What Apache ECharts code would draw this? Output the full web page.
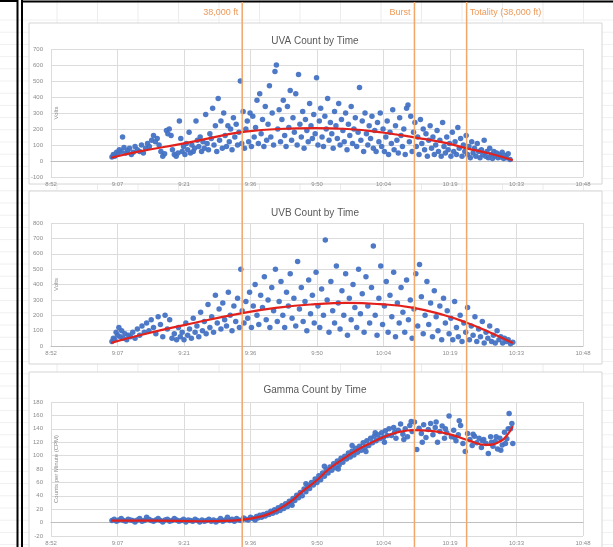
<!DOCTYPE html>
<html><head><meta charset="utf-8">
<script src="https://cdn.jsdelivr.net/npm/echarts@6/dist/echarts.min.js"></script>
<style>html,body{margin:0;padding:0;background:#fff}#c{width:613px;height:547px}</style>
</head><body><div id="c"></div><script>
// times are minutes after 9:00
const xTickLabels = ['8:52','9:07','9:21','9:36','9:50','10:04','10:19','10:33','10:48'];
const eventTimes = [34.2, 71.5, 82.8];
const eventLabels = ['38,000 ft', 'Burst', 'Totality (38,000 ft)'];
const chartTitles = ['UVA Count by Time', 'UVB Count by Time', 'Gamma Count by Time'];
const yAxisNames = ['Volts', 'Volts', 'Counts per Minute (CPM)'];

const uvaPoints = [
[6.0,25],[6.3,40],[6.6,30],[7.0,55],[7.3,45],[7.6,70],[8.0,60],[8.3,150],[8.6,85],[9.0,50],[9.4,65],[9.8,80],[10.2,40],[10.6,55],[11.0,90],[11.5,70],[12.0,60],[12.4,100],[12.8,50],[13.3,80],[13.7,110],[14.1,90],[14.6,130],[15.0,160],[15.4,120],[15.8,140],[16.2,100],[16.6,60],[17.0,30],[17.4,45],[17.8,190],[18.1,170],[18.4,200],[18.8,160],[19.1,70],[19.5,40],[19.9,30],[20.3,50],
[20.6,250],[20.9,140],[21.2,60],[21.5,90],[21.8,40],[22.1,110],[22.4,70],[22.7,180],[23.0,50],[23.3,100],[23.6,60],[23.9,80],[24.2,250],[24.5,130],[24.8,90],[25.1,150],[25.4,60],[25.7,120],[26.0,80],[26.3,290],[26.6,110],[26.9,70],[27.2,170],[27.5,140],[27.8,330],[28.1,100],[28.4,220],[28.7,60],[29.0,390],[29.3,130],[29.6,250],[29.9,80],[30.2,300],[30.5,160],[30.8,90],[31.1,220],[31.4,120],[31.7,200],[32.0,70],[32.3,270],[32.6,150],[32.9,230],[33.2,100],[33.5,180],[33.8,500],[34.1,110],[34.4,310],[34.7,80],[35.0,200],
[35.3,250],[35.6,120],[35.9,300],[36.2,90],[36.5,280],[36.8,150],[37.1,210],[37.4,380],[37.7,110],[38.0,420],[38.3,170],[38.6,260],[38.9,90],[39.2,340],[39.5,130],[39.8,230],[40.1,470],[40.4,150],[40.7,300],[41.0,100],[41.3,560],[41.6,600],[41.9,200],[42.2,320],[42.5,120],[42.8,260],[43.1,380],[43.4,160],[43.7,90],[44.0,340],[44.3,210],[44.6,440],[44.9,130],[45.2,270],[45.5,180],[45.8,420],[46.1,100],[46.4,540],[46.7,230],[47.0,150],[47.3,310],[47.6,80],[47.9,260],[48.2,190],[48.5,120],[48.8,360],[49.1,220],[49.4,140],[49.7,290],
[50.0,170],[50.3,520],[50.6,100],[50.9,250],[51.2,330],[51.5,150],[51.8,90],[52.1,280],[52.4,200],[52.7,390],[53.0,130],[53.3,240],[53.6,170],[53.9,80],[54.2,310],[54.5,220],[54.8,140],[55.1,360],[55.4,100],[55.7,260],[56.0,190],[56.3,120],[56.6,300],[56.9,70],[57.2,230],[57.5,160],[57.8,340],[58.1,110],[58.4,200],[58.7,270],[59.0,90],[59.3,180],[59.6,460],[59.9,130],[60.2,250],[60.5,60],[60.8,300],[61.1,170],[61.4,100],[61.7,220],[62.0,140],[62.3,280],[62.6,80],[62.9,190],[63.2,60],[63.5,240],[63.8,120],
[64.1,300],[64.4,90],[64.7,200],[65.0,60],[65.3,150],[65.6,250],[65.9,40],[66.2,180],[66.5,110],[66.8,320],[67.1,70],[67.4,220],[67.7,130],[68.0,50],[68.3,270],[68.6,160],[68.9,90],[69.2,200],[69.5,40],[69.8,330],[70.1,350],[70.4,120],[70.7,280],[71.0,60],[71.3,180],[71.6,240],[71.9,90],[72.2,150],[72.5,40],[72.8,260],[73.1,110],[73.4,200],[73.7,70],[74.0,170],[74.3,30],[74.6,130],[74.9,220],[75.2,80],[75.5,150],[75.8,40],[76.1,100],[76.4,190],[76.7,60],[77.0,130],[77.3,30],[77.6,240],[77.9,90],[78.2,50],
[78.5,150],[78.8,70],[79.1,110],[79.4,30],[79.7,180],[80.0,60],[80.3,120],[80.6,40],[80.9,210],[81.2,80],[81.5,140],[81.8,30],[82.1,100],[82.4,60],[82.7,160],[83.0,40],[83.3,90],[83.6,20],[83.9,120],[84.2,50],[84.5,80],[84.8,30],[85.1,110],[85.4,60],[85.7,20],[86.0,70],[86.3,40],[86.6,130],[86.9,30],[87.2,60],[87.5,20],[87.8,80],[88.1,40],[88.4,15],[88.7,60],[89.0,30],[89.3,50],[89.6,20],[89.9,40],[90.2,25],[90.5,55],[90.8,15],[91.1,35],[91.4,20],[91.8,45],[92.2,10]
];
const uvaTrend = [[5.8,20],[12,60],[21.6,110],[30,160],[34,180],[42,200],[50,206],[57,200],[64.6,178],[72,145],[78.5,112],[82.4,82],[88,45],[92.8,5]];

const uvbPoints = [
[6.0,30],[6.3,50],[6.6,40],[6.9,90],[7.2,70],[7.5,120],[7.8,60],[8.1,100],[8.4,50],[8.8,80],[9.2,40],[9.6,70],[10.0,60],[10.5,90],[11.0,50],[11.5,110],[12.0,70],[12.5,130],[13.0,90],[13.5,150],[14.0,100],[14.5,170],[15.0,120],[15.5,80],[16.0,190],[16.5,140],[17.0,60],[17.5,200],[18.0,110],[18.5,170],[19.0,50],[19.5,80],[20.0,40],
[20.4,120],[20.8,60],[21.2,90],[21.6,40],[22.0,150],[22.4,70],[22.8,110],[23.2,50],[23.6,180],[24.0,90],[24.4,130],[24.8,60],[25.2,220],[25.6,100],[26.0,160],[26.4,80],[26.8,270],[27.2,120],[27.6,190],[28.0,90],[28.4,330],[28.8,150],[29.2,240],[29.6,110],[30.0,280],[30.4,170],[30.8,130],[31.2,350],[31.6,200],[32.0,100],[32.4,260],[32.8,160],[33.2,310],[33.6,120],[33.9,500],[34.2,230],[34.6,150],[35.0,290],
[35.4,180],[35.8,350],[36.2,120],[36.6,260],[37.0,400],[37.4,200],[37.8,140],[38.2,330],[38.6,250],[39.0,450],[39.4,170],[39.8,300],[40.2,120],[40.6,380],[41.0,230],[41.4,500],[41.8,160],[42.2,290],[42.6,420],[43.0,200],[43.4,120],[43.8,350],[44.2,260],[44.6,470],[45.0,180],[45.4,310],[45.8,130],[46.2,550],[46.6,240],[47.0,380],[47.4,160],[47.8,290],[48.2,100],[48.6,430],[49.0,210],[49.4,330],[49.8,150],
[50.2,480],[50.6,260],[51.0,120],[51.4,370],[51.8,200],[52.2,690],[52.6,300],[53.0,90],[53.4,420],[53.8,230],[54.2,150],[54.6,520],[55.0,280],[55.4,110],[55.8,360],[56.2,200],[56.6,470],[57.0,70],[57.4,310],[57.8,170],[58.2,400],[58.6,250],[59.0,120],[59.4,500],[59.8,210],[60.2,340],[60.6,90],[61.0,450],[61.4,260],[61.8,150],[62.2,380],[62.6,650],[63.0,200],[63.4,70],[63.8,310],
[64.2,520],[64.6,140],[65.0,260],[65.4,420],[65.8,90],[66.2,330],[66.6,190],[67.0,480],[67.4,60],[67.8,280],[68.2,150],[68.6,380],[69.0,220],[69.4,90],[69.8,430],[70.2,170],[70.6,300],[71.0,50],[71.4,240],[71.8,470],[72.2,130],[72.6,530],[73.0,320],[73.4,80],[73.8,200],[74.2,420],[74.6,140],[75.0,280],[75.4,60],[75.8,360],[76.2,190],[76.6,100],[77.0,260],[77.4,40],[77.8,310],[78.2,150],
[78.6,230],[79.0,80],[79.4,180],[79.8,40],[80.2,290],[80.6,120],[81.0,60],[81.4,200],[81.8,30],[82.2,150],[82.6,90],[83.0,250],[83.4,40],[83.8,130],[84.2,70],[84.6,190],[85.0,30],[85.4,110],[85.8,60],[86.2,160],[86.6,20],[87.0,90],[87.4,50],[87.8,130],[88.2,30],[88.6,70],[89.0,20],[89.4,100],[89.8,40],[90.2,60],[90.6,20],[91.0,50],[91.4,30],[91.8,40],[92.3,15],[92.8,25]
];
const uvbTrend = [[5.8,20],[12,70],[21.6,136],[34.2,214],[42,250],[50,272],[57,280],[64,272],[71,250],[78,200],[82.4,156],[87.4,95],[92.8,20]];

const gammaPoints = [
[6.0,3],[6.5,5],[7.0,2],[7.5,4],[8.0,6],[8.5,3],[9.0,2],[9.5,5],[10.0,4],[10.5,3],[11.0,1],[11.5,4],[12.0,6],[12.5,2],[13.0,3],[13.5,8],[14.0,5],[14.5,3],[15.0,2],[15.5,4],[16.0,6],[16.5,3],[17.0,1],[17.5,4],[18.0,5],[18.5,2],[19.0,3],[19.5,6],[20.0,4],[20.5,2],[21.0,3],[21.5,5],[22.0,1],[22.5,4],[23.0,3],[23.5,2],[24.0,5],[24.5,3],[25.0,1],[25.5,4],[26.0,2],[26.5,3],[27.0,5],[27.5,2],[28.0,4],[28.5,1],[29.0,3],[29.5,6],[30.0,2],[30.5,4],[31.0,8],[31.5,3],[32.0,5],[32.5,2],[33.0,6],[33.5,4],[34.0,3],[34.5,7],[35.0,5],[35.5,4],[36.0,8],
[36.5,6],[37.0,4],[37.3,9],[37.6,7],[38.0,11],[38.4,8],[38.8,12],[39.2,10],[39.6,14],[40.0,12],[40.4,17],[40.8,14],[41.2,19],[41.6,16],[42.0,22],[42.4,18],[42.8,25],[43.2,21],[43.6,28],[44.0,24],[44.4,32],[44.8,28],[45.0,26],[45.2,36],[45.6,33],[46.0,41],[46.4,37],[46.8,45],[47.2,40],[47.6,50],[48.0,46],[48.0,58],[48.4,55],[48.8,51],[49.2,60],[49.6,56],[50.0,65],[50.4,60],[50.8,70],[51.2,64],[51.6,74],[52.0,69],[52.0,84],[52.4,79],[52.8,74],[53.2,83],[53.6,78],[54.0,88],[54.4,82],[54.8,92],[55.0,80],[55.2,86],[55.6,96],[56.0,90],[56.4,99],[56.8,95],[57.2,104],[57.6,98],[58.0,107],[58.0,115],[58.4,101],[58.8,111],[59.2,105],[59.6,114],[60.0,108],[60.4,119],[60.8,112],[61.0,106],[61.2,122],[61.6,115],[62.0,126],[62.4,119],[62.8,129],[63.0,134],[63.2,122],[63.6,131],[64.0,125],[64.4,134],[64.8,127],[65.0,120],[65.2,137],[65.6,130],[66.0,140],
[66.5,130],[67.0,142],[67.2,135],[67.5,126],[68.0,138],[68.5,147],[69.0,132],[69.2,124],[69.5,140],[70.0,128],[70.5,145],[70.8,151],[71.0,136],[71.5,150],[72.0,109],[72.5,141],[73.0,133],[73.2,120],[73.5,146],[74.0,127],[74.5,139],[75.0,148],[75.5,131],[76.0,142],[76.2,150],[76.5,120],[77.0,136],[77.5,144],[78.0,126],[78.2,140],[78.5,134],[79.0,159],[79.5,128],[80.0,138],[80.2,127],[80.5,122],[81.0,131],[81.2,152],[81.5,145],[82.0,118],[82.5,106],[83.0,133],[83.5,124],[84.0,115],[84.2,132],[84.5,129],[85.0,119],[85.5,126],[86.0,112],[86.2,122],[86.5,124],[87.0,118],[87.5,103],[88.0,128],[88.2,120],[88.5,114],[89.0,121],[89.2,128],[89.5,110],[90.0,126],[90.2,108],[90.5,116],[91.0,135],[91.2,118],[91.5,125],[91.8,140],[92.0,163],[92.3,140],[92.6,148],[92.8,118]
];
const gammaTrend = [[5.8,3],[15,3],[25,2],[32,3],[36,6],[40,13],[44.4,30],[47,45],[50.5,64],[53,80],[56.3,96],[59,108],[61.8,118],[65,128],[68,135],[71.5,138],[75,137],[79.6,131],[83.5,122],[87.1,116],[90,121],[91.5,130],[92.8,144]];

// ---- presentation ----
const FONT = 'Liberation Sans, Arial, sans-serif';
const toAxis = m => (540 + m) / 14.4;          // axis unit = 0.01 day (14.4 min)
const conv = pts => pts.map(p => [toAxis(p[0]), p[1]]);
const layout = [
  {top: 49, height: 128, min: -100, max: 700, interval: 100, titleTop: 31, panel: [29, 23, 573, 161]},
  {top: 223, height: 123, min: 0, max: 800, interval: 100, titleTop: 203, panel: [29, 191, 573, 173]},
  {top: 402, height: 134, min: -20, max: 180, interval: 20, titleTop: 380, panel: [29, 372, 573, 180]}
];
const pointSets = [uvaPoints, uvbPoints, gammaPoints];
const trendSets = [uvaTrend, uvbTrend, gammaTrend];

const chart = echarts.init(document.getElementById('c'));
const grids = [], xAxes = [], yAxes = [], series = [], titles = [];
const gridCol = '#dcdcdc', labCol = '#8c8c8c';
layout.forEach((L, i) => {
  grids.push({left: 51, right: 30, top: L.top, height: L.height});
  xAxes.push({type: 'value', gridIndex: i, min: 37, max: 45, interval: 1,
    axisLine: {onZero: true, lineStyle: {color: '#bfbfbf'}}, axisTick: {show: false},
    splitLine: {show: true, lineStyle: {color: gridCol}},
    axisLabel: {fontSize: 6, color: labCol, margin: 4, fontFamily: FONT,
      formatter: v => xTickLabels[Math.round(v - 37)]}});
  yAxes.push({type: 'value', gridIndex: i, min: L.min, max: L.max, interval: L.interval,
    axisLine: {show: false}, axisTick: {show: false},
    splitLine: {lineStyle: {color: gridCol}},
    axisLabel: {fontSize: 6, color: labCol, margin: 8, fontFamily: FONT}});
  series.push({type: 'scatter', xAxisIndex: i, yAxisIndex: i, data: conv(pointSets[i]),
    symbolSize: 5.5, itemStyle: {color: '#4472C4', opacity: 0.95}, z: 3});
  series.push({type: 'line', xAxisIndex: i, yAxisIndex: i, data: conv(trendSets[i]),
    smooth: 0.5, showSymbol: false, lineStyle: {color: '#E3211C', width: 2.2}, z: 4});
  titles.push({text: chartTitles[i], left: 310, textAlign: 'center', top: L.titleTop,
    textStyle: {fontSize: 10, fontWeight: 'normal', color: '#595959', fontFamily: FONT}});
});

// background: spreadsheet cells, frames, chart panels
const bg = [];
for (let x = 57; x < 613; x += 40.5) bg.push({type: 'line', z: -20, silent: true,
  shape: {x1: x, y1: 0, x2: x, y2: 547}, style: {stroke: '#ececec', lineWidth: 1}});
for (let y = 20; y < 547; y += 12.2) bg.push({type: 'line', z: -20, silent: true,
  shape: {x1: 0, y1: y, x2: 613, y2: y}, style: {stroke: '#f0f0f0', lineWidth: 1}});
layout.forEach(L => bg.push({type: 'rect', z: -10, silent: true,
  shape: {x: L.panel[0], y: L.panel[1], width: L.panel[2], height: L.panel[3]},
  style: {fill: '#fff', stroke: '#d6d6d6', lineWidth: 1}}));
layout.forEach((L, i) => bg.push({type: 'text', z: 5, silent: true,
  x: 56, y: L.top + L.height / 2, rotation: Math.PI / 2,
  style: {text: yAxisNames[i], fill: labCol, font: '6px ' + FONT, align: 'center', verticalAlign: 'middle'}}));
bg.push({type: 'line', z: 50, shape: {x1: 17.5, y1: 0, x2: 17.5, y2: 547}, style: {stroke: '#000', lineWidth: 2}});
bg.push({type: 'line', z: 50, shape: {x1: 0, y1: 1, x2: 18, y2: 1}, style: {stroke: '#000', lineWidth: 2}});
bg.push({type: 'line', z: 50, shape: {x1: 22, y1: 0, x2: 22, y2: 547}, style: {stroke: '#000', lineWidth: 2}});
bg.push({type: 'line', z: 50, shape: {x1: 21, y1: 1.5, x2: 613, y2: 1.5}, style: {stroke: '#000', lineWidth: 2}});

chart.setOption({
  animation: false,
  backgroundColor: '#fff',
  title: titles, grid: grids, xAxis: xAxes, yAxis: yAxes, series: series,
  graphic: {elements: bg}
});

// event markers drawn through the x scale
const ev = [];
eventTimes.forEach((t, k) => {
  const px = chart.convertToPixel({xAxisIndex: 0}, toAxis(t));
  ev.push({type: 'line', z: 60, silent: true, shape: {x1: px, y1: 2, x2: px, y2: 547},
    style: {stroke: '#F2A76A', lineWidth: 1.5}});
  const right = k < 2;
  ev.push({type: 'text', z: 60, x: right ? px - 4 : px + 3, y: 13,
    style: {text: eventLabels[k], fill: '#EE9A5A', font: '9px ' + FONT,
      align: right ? 'right' : 'left', verticalAlign: 'middle'}});
});
chart.setOption({graphic: {elements: bg.concat(ev)}});
</script></body></html>
